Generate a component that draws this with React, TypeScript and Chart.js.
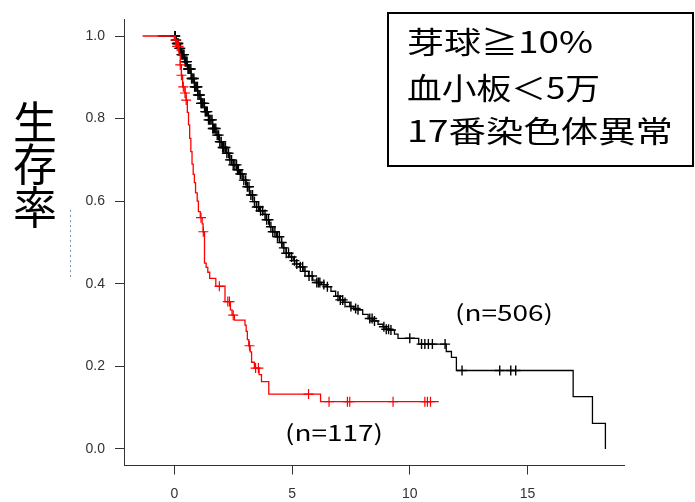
import React, { useEffect, useRef } from "react";
import { Chart, registerables } from "chart.js";

Chart.register(...registerables);

// ---- data ----
const xTicks = [0, 5, 10, 15];
const yTicks = [0, 0.2, 0.4, 0.6, 0.8, 1.0];

const blackTimes = [-0.7, 0.0, 0.05, 0.1, 0.2, 0.3, 0.43, 0.55, 0.71, 0.85, 0.99, 1.13, 1.28, 1.45, 1.63, 1.77, 1.91, 2.05, 2.2, 2.35, 2.5, 2.65, 2.77, 2.91, 3.05, 3.19, 3.33, 3.48, 3.62, 3.76, 3.9, 4.04, 4.18, 4.33, 4.47, 4.61, 4.75, 4.9, 5.05, 5.18, 5.32, 5.5, 5.7, 5.88, 6.05, 6.25, 6.45, 6.65, 6.85, 7.02, 7.2, 7.45, 7.62, 7.8, 8.0, 8.23, 8.44, 8.65, 8.86, 9.0, 9.15, 9.35, 9.5, 10.38, 11.55, 11.77, 11.98, 16.94, 17.76, 18.31];
const blackSurv = [1.0, 1.0, 0.99, 0.982, 0.97, 0.955, 0.938, 0.92, 0.897, 0.877, 0.857, 0.837, 0.817, 0.797, 0.776, 0.76, 0.744, 0.73, 0.716, 0.7, 0.688, 0.676, 0.666, 0.651, 0.635, 0.615, 0.599, 0.586, 0.577, 0.568, 0.555, 0.538, 0.526, 0.514, 0.5, 0.487, 0.474, 0.465, 0.456, 0.448, 0.441, 0.43, 0.419, 0.409, 0.403, 0.398, 0.393, 0.382, 0.37, 0.361, 0.355, 0.345, 0.34, 0.337, 0.326, 0.316, 0.31, 0.302, 0.296, 0.29, 0.288, 0.278, 0.268, 0.254, 0.236, 0.222, 0.19, 0.127, 0.062, 0.0];

const redTimes = [-1.35, -0.1, 0.0, 0.1, 0.2, 0.25, 0.3, 0.35, 0.45, 0.5, 0.55, 0.6, 0.65, 0.7, 0.75, 0.8, 0.85, 0.9, 0.97, 1.02, 1.1, 1.18, 1.22, 1.28, 1.35, 1.42, 1.5, 1.76, 2.15, 2.38, 2.45, 2.55, 3.0, 3.05, 3.1, 3.16, 3.22, 3.28, 3.4, 3.6, 3.7, 4.01, 6.21, 11.23];
const redSurv = [1.0, 1.0, 0.99, 0.975, 0.955, 0.93, 0.905, 0.877, 0.862, 0.845, 0.815, 0.785, 0.752, 0.72, 0.69, 0.665, 0.645, 0.62, 0.6, 0.575, 0.56, 0.545, 0.526, 0.45, 0.44, 0.428, 0.413, 0.394, 0.357, 0.337, 0.324, 0.312, 0.3, 0.285, 0.265, 0.25, 0.235, 0.21, 0.196, 0.18, 0.163, 0.133, 0.1145, 0.1145];

const blackCensor = [0.02, 0.04, 0.06, 0.08, 0.1, 0.13, 0.15, 0.17, 0.21, 0.23, 0.25, 0.3, 0.33, 0.35, 0.37, 0.41, 0.45, 0.48, 0.5, 0.54, 0.58, 0.6, 0.62, 0.66, 0.7, 0.73, 0.75, 0.79, 0.83, 0.86, 0.88, 0.92, 0.96, 0.98, 1.0, 1.05, 1.09, 1.13, 1.16, 1.18, 1.22, 1.27, 1.31, 1.34, 1.36, 1.4, 1.45, 1.5, 1.55, 1.6, 1.63, 1.66, 1.71, 1.76, 1.82, 1.88, 1.93, 1.99, 2.05, 2.08, 2.11, 2.17, 2.23, 2.3, 2.36, 2.43, 2.5, 2.57, 2.64, 2.68, 2.72, 2.8, 2.87, 2.95, 3.03, 3.1, 3.17, 3.25, 3.32, 3.4, 3.5, 3.58, 3.66, 3.75, 3.85, 3.92, 4.0, 4.1, 4.18, 4.27, 4.38, 4.46, 4.56, 4.65, 4.75, 4.85, 4.98, 5.1, 5.2, 5.35, 5.45, 5.55, 5.72, 5.85, 6.05, 6.12, 6.18, 6.35, 6.5, 6.95, 7.05, 7.15, 7.25, 7.5, 7.7, 7.8, 8.3, 8.4, 8.5, 8.9, 9.0, 9.1, 9.2, 10.0, 10.5, 10.64, 10.79, 10.96, 11.5, 12.22, 13.82, 14.29, 14.5];
const redCensor = [0.05, 0.12, 0.18, 0.25, 0.3, 0.38, 0.45, 0.5, 1.13, 1.23, 1.91, 2.27, 2.34, 2.5, 3.19, 3.45, 3.57, 5.7, 6.57, 7.35, 7.45, 9.29, 10.64, 10.75, 10.88];

const boxLines = ["芽球≧10%", "血小板＜5万", "17番染色体異常"];
const yTitleChars = ["生", "存", "率"];
const nLabelBlack = "(n=506)";
const nLabelRed = "(n=117)";

function survAt(times: number[], surv: number[], t: number): number {
  let s = surv[0];
  for (let i = 0; i < times.length; i++) {
    if (times[i] <= t) s = surv[i];
    else break;
  }
  return s;
}

const annotPlugin = {
  id: "annot",
  afterDraw(chart: any) {
    const ctx: CanvasRenderingContext2D = chart.ctx;
    ctx.save();
    // legend box
    ctx.strokeStyle = "#000";
    ctx.lineWidth = 2;
    ctx.strokeRect(388, 13, 305, 153);
    ctx.fillStyle = "#000";
    ctx.textBaseline = "middle";
    ctx.textAlign = "left";
    const boxFont = '30px "Noto Sans CJK JP"';
    const boxY = [42, 88, 131];
    const boxW = [186, 193, 266];
    boxLines.forEach((txt, i) => {
      ctx.save();
      ctx.font = boxFont;
      const w = ctx.measureText(txt).width;
      ctx.translate(407, boxY[i]);
      ctx.scale(boxW[i] / w, 1);
      ctx.fillText(txt, 0, 0);
      ctx.restore();
    });
    // y title
    ctx.font = '44px "Noto Sans CJK JP"';
    ctx.textAlign = "center";
    const ty = [122, 164, 207];
    yTitleChars.forEach((c, i) => ctx.fillText(c, 35, ty[i]));
    // n labels
    const drawN = (txt: string, x: number, y: number, tw: number) => {
      ctx.save();
      ctx.font = '22px "Noto Sans CJK JP"';
      ctx.textAlign = "left";
      const w = ctx.measureText(txt).width;
      ctx.translate(x, y);
      ctx.scale(tw / w, 1);
      ctx.fillText(txt, 0, 0);
      ctx.restore();
    };
    drawN(nLabelBlack, 455, 313, 98);
    drawN(nLabelRed, 285, 433, 98);
    // faint dotted artifact
    ctx.strokeStyle = "rgba(40,70,140,0.6)";
    ctx.lineWidth = 1;
    ctx.setLineDash([2, 3]);
    ctx.beginPath();
    ctx.moveTo(70.5, 210);
    ctx.lineTo(70.5, 277);
    ctx.stroke();
    ctx.restore();
  },
};

export default function App() {
  const ref = useRef<HTMLCanvasElement | null>(null);
  useEffect(() => {
    if (!ref.current) return;
    const tickFont = { family: '"Liberation Sans", Arial, sans-serif', size: 14 };
    const chart = new Chart(ref.current, {
      type: "scatter",
      data: {
        datasets: [
          {
            data: redCensor.map((t) => ({ x: t, y: survAt(redTimes, redSurv, t) })),
            showLine: false,
            pointStyle: "cross",
            pointRadius: 5,
            borderColor: "#ff0000",
            backgroundColor: "#ff0000",
            borderWidth: 1.2,
          },
          {
            data: redTimes.map((t, i) => ({ x: t, y: redSurv[i] })),
            showLine: true,
            stepped: "before",
            pointRadius: 0,
            borderColor: "#ff0000",
            borderWidth: 1.3,
          },
          {
            data: blackCensor.map((t) => ({ x: t, y: survAt(blackTimes, blackSurv, t) })),
            showLine: false,
            pointStyle: "cross",
            pointRadius: 5,
            borderColor: "#000",
            backgroundColor: "#000",
            borderWidth: 1.4,
          },
          {
            data: blackTimes.map((t, i) => ({ x: t, y: blackSurv[i] })),
            showLine: true,
            stepped: "before",
            pointRadius: 0,
            borderColor: "#000",
            borderWidth: 1.3,
          },
        ],
      } as any,
      options: {
        animation: false,
        responsive: false,
        events: [],
        layout: { padding: { top: 19.5, right: 71, left: 0, bottom: 0 } },
        plugins: { legend: { display: false }, tooltip: { enabled: false } },
        scales: {
          x: {
            type: "linear",
            min: -2.14,
            max: 19.1,
            afterBuildTicks: (s: any) => {
              s.ticks = xTicks.map((v) => ({ value: v }));
            },
            afterFit: (s: any) => {
              s.height = 36.5;
            },
            grid: { display: true, drawOnChartArea: false, drawTicks: true, tickLength: 9, color: "#333" },
            border: { display: true, color: "#333", width: 1 },
            ticks: { font: tickFont, color: "#333", padding: 11, autoSkip: false, maxRotation: 0 },
          },
          y: {
            type: "linear",
            min: -0.04,
            max: 1.04,
            afterBuildTicks: (s: any) => {
              s.ticks = yTicks.map((v) => ({ value: v }));
            },
            afterFit: (s: any) => {
              s.width = 124;
            },
            grid: { display: true, drawOnChartArea: false, drawTicks: true, tickLength: 9, color: "#333" },
            border: { display: true, color: "#333", width: 1 },
            ticks: {
              font: tickFont,
              color: "#333",
              padding: 10,
              callback: (v: any) => Number(v).toFixed(1),
            },
          },
        },
      } as any,
      plugins: [annotPlugin],
    });
    return () => chart.destroy();
  }, []);
  return (
    <div style={{ position: "absolute", left: 0, top: 0, width: 695, height: 502, background: "#fff" }}>
      <canvas ref={ref} width={695} height={502} style={{ display: "block" }} />
    </div>
  );
}
